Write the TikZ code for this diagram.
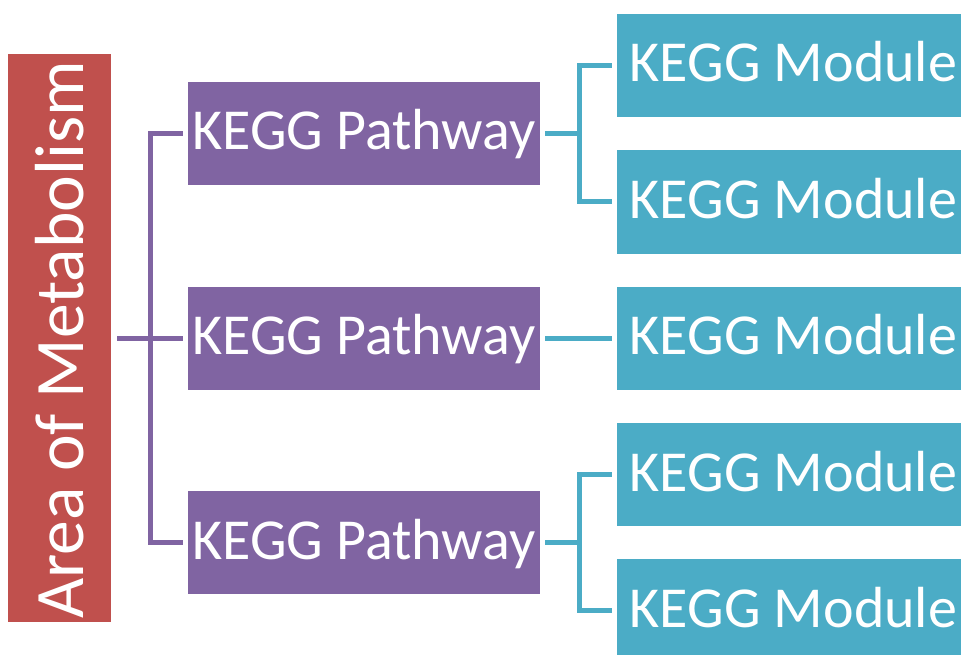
\documentclass[tikz,border=0pt]{standalone}
\usepackage{fontspec}
\setmainfont{Carlito}
\definecolor{areared}{HTML}{C0504D}
\definecolor{pathpurple}{HTML}{8064A2}
\definecolor{modteal}{HTML}{4BACC6}
\begin{document}
\begin{tikzpicture}[x=1pt,y=-1pt,
  box/.style={rectangle, inner sep=0pt, text=white, font=\fontsize{58}{60}\selectfont,
    text height=40pt, text depth=7pt},
  areabox/.style={box, fill=areared, minimum width=103pt, minimum height=568pt},
  pathbox/.style={box, fill=pathpurple, minimum width=352pt, minimum height=103pt},
  modbox/.style={box, fill=modteal, minimum width=344pt, minimum height=103pt},
  pconn/.style={draw=pathpurple, line width=5pt},
  tconn/.style={draw=modteal, line width=5pt}]
\useasboundingbox (0,0) rectangle (961,655);
% root
\node[areabox, label={[rotate=90, text=white, font=\fontsize{69.5}{72}\selectfont, inner sep=0pt, xshift=-2pt]center:Area of Metabolism}] (area) at (59.5,338) {};
% pathways
\node[pathbox] (p1) at (364,133.5) {KEGG Pathway};
\node[pathbox] (p2) at (364,338) {KEGG Pathway};
\node[pathbox] (p3) at (364,542.5) {KEGG Pathway};
% modules (text sits a little right of the box centre)
\newcommand{\modtext}{\hspace*{9pt}KEGG Module}
\node[modbox] (m1) at (789,65.5) {\modtext};
\node[modbox] (m2) at (789,202) {\modtext};
\node[modbox] (m3) at (789,338) {\modtext};
\node[modbox] (m4) at (789,474.5) {\modtext};
\node[modbox] (m5) at (789,610.5) {\modtext};
% junction points
\coordinate (pj) at (150,338);
\coordinate (tj1) at (579,133.5);
\coordinate (tj3) at (579,542.5);
% purple connectors
\draw[pconn, shorten <=6pt, shorten >=5pt] (area.east) -- (p2.west);
\draw[pconn, shorten <=5pt, shorten >=5pt] (p1.west) -| (pj) |- (p3.west);
% teal connectors
\draw[tconn, shorten <=5pt] (p1.east) -- (tj1);
\draw[tconn, shorten <=5pt, shorten >=5pt] (m1.west) -| (tj1) |- (m2.west);
\draw[tconn, shorten <=5pt, shorten >=5pt] (p2.east) -- (m3.west);
\draw[tconn, shorten <=5pt] (p3.east) -- (tj3);
\draw[tconn, shorten <=5pt, shorten >=5pt] (m4.west) -| (tj3) |- (m5.west);
\end{tikzpicture}
\end{document}
